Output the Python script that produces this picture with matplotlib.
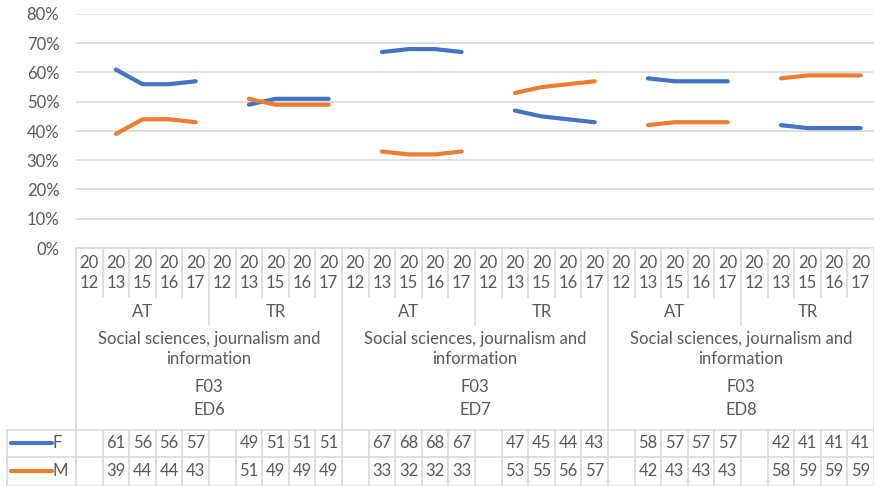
import matplotlib
matplotlib.use("Agg")
import matplotlib.pyplot as plt
from matplotlib import transforms
from matplotlib.lines import Line2D

W, H = 874, 486
plt.rcParams['font.family'] = ['Lato', 'DejaVu Sans']

# Category hierarchy
levels = ["ED6", "ED7", "ED8"]
field_code = "F03"
field_name = "Social sciences, journalism and\ninformation"
countries = ["AT", "TR"]
years = ["2012", "2013", "2015", "2016", "2017"]

# Share of graduates (%) per level / country / year; None = no data
female = {
    "ED6": {"AT": [None, 61, 56, 56, 57], "TR": [None, 49, 51, 51, 51]},
    "ED7": {"AT": [None, 67, 68, 68, 67], "TR": [None, 47, 45, 44, 43]},
    "ED8": {"AT": [None, 58, 57, 57, 57], "TR": [None, 42, 41, 41, 41]},
}
male = {
    "ED6": {"AT": [None, 39, 44, 44, 43], "TR": [None, 51, 49, 49, 49]},
    "ED7": {"AT": [None, 33, 32, 32, 33], "TR": [None, 53, 55, 56, 57]},
    "ED8": {"AT": [None, 42, 43, 43, 43], "TR": [None, 58, 59, 59, 59]},
}
series = [("F", female, "#4472C4"), ("M", male, "#ED7D31")]

yticks = [0, 10, 20, 30, 40, 50, 60, 70, 80]
ytick_labels = [f"{v}%" for v in yticks]

TXT = "#595959"
GRID = "#D9D9D9"
FS = 12

fig = plt.figure(figsize=(W / 100, H / 100), dpi=100)
ax = fig.add_axes([76 / W, 1 - 248 / H, (W - 76) / W, (248 - 14) / H])

n_y = len(years)
n_c = len(countries)
n = len(levels) * n_c * n_y
ax.set_xlim(-0.5, n - 0.5)
ax.set_ylim(0, 80)

# Data lines, one segment per level/country group
for name, data, color in series:
    idx = 0
    for lv in levels:
        for c in countries:
            xs, ys = [], []
            for k, v in enumerate(data[lv][c]):
                if v is not None:
                    xs.append(idx + k)
                    ys.append(v)
            ax.plot(xs, ys, color=color, lw=3.0, solid_capstyle='round',
                    solid_joinstyle='round', zorder=3)
            idx += n_y

ax.set_yticks(yticks)
ax.set_yticklabels(ytick_labels, color=TXT, fontsize=FS)
ax.tick_params(axis='y', length=0, pad=12)
ax.set_xticks([])
ax.grid(axis='y', color=GRID, lw=1.2)
ax.set_axisbelow(True)
for s in ax.spines.values():
    s.set_visible(False)

# x in category units, y in figure pixels (from top)
tr = transforms.blended_transform_factory(ax.transData, fig.transFigure)


def fy(py):
    return 1 - py / H


def vline(x, y0, y1):
    ax.add_line(Line2D([x, x], [fy(y0), fy(y1)], transform=tr, color=GRID,
                       lw=1.2, clip_on=False))


def hline(x0, x1, y):
    ax.add_line(Line2D([x0, x1], [fy(y), fy(y)], transform=tr, color=GRID,
                       lw=1.2, clip_on=False))


def label(x, py, s, **kw):
    ax.text(x, fy(py), s, transform=tr, ha='center', va='center',
            color=TXT, fontsize=FS, clip_on=False, linespacing=1.35, **kw)


# Multi-level category axis
hline(-0.5, n - 0.5, 248)
vline(-0.5, 248, H)
for i in range(1, n + 1):
    x = i - 0.5
    if i % (n_y * n_c) == 0:
        vline(x, 248, 430)
    elif i % n_y == 0:
        vline(x, 248, 325)
    else:
        vline(x, 248, 297)

for i in range(n):
    yr = years[i % n_y]
    label(i, 273, yr[:2] + "\n" + yr[2:])

for g, lv in enumerate(levels):
    base = g * n_y * n_c
    for ci, c in enumerate(countries):
        label(base + ci * n_y + (n_y - 1) / 2, 312, c)
    mid = base + (n_y * n_c - 1) / 2
    label(mid, 349, field_name)
    label(mid, 387, field_code)
    label(mid, 410, lv)

# Data table
x_left = ax.transData.inverted().transform((7, 0))[0]
for py in (430, 457, 485.5):
    hline(x_left, n - 0.5, py)
vline(x_left, 430, H)
for i in range(1, n + 1):
    vline(i - 0.5, 430, H)

row_y = [443, 471]
for (name, data, color), py in zip(series, row_y):
    idx = 0
    for lv in levels:
        for c in countries:
            for v in data[lv][c]:
                if v is not None:
                    label(idx, py, str(v))
                idx += 1
    # legend key
    fig.add_artist(Line2D([11 / W, 52 / W], [fy(py), fy(py)], color=color,
                          lw=3.0, solid_capstyle='round'))
    fig.text(53 / W, fy(py), name, ha='left', va='center', color=TXT,
             fontsize=FS)

fig.savefig("out.png", dpi=100)
